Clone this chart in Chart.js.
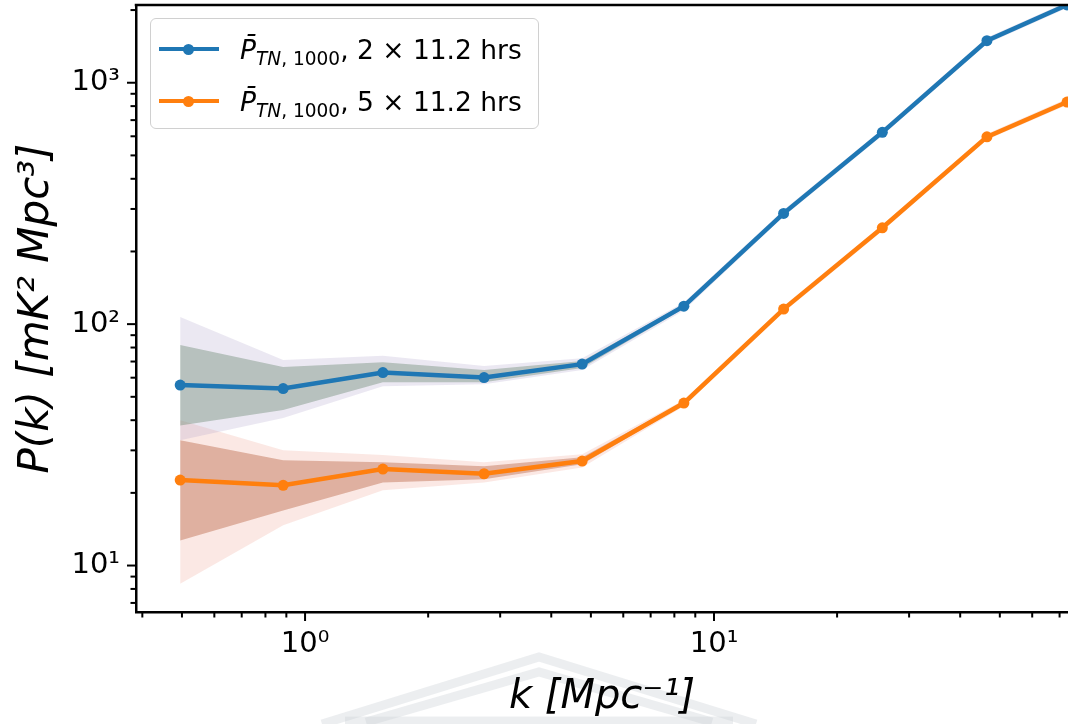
<!DOCTYPE html>
<html>
<head>
<meta charset="utf-8">
<script src="https://cdn.jsdelivr.net/npm/chart.js@4.4.1/dist/chart.umd.min.js"></script>
<style>
  html, body { margin: 0; padding: 0; background: #fff; }
  #wrap { position: relative; width: 1068px; height: 724px; overflow: hidden; }
  #c { position: absolute; left: 0; top: 0; }
  #legend {
    position: absolute; left: 150px; top: 18px; width: 387px; height: 109px;
    border: 1.5px solid #d0d0d0; border-radius: 6px; background: rgba(255,255,255,0.85);
    font-family: "DejaVu Sans", sans-serif; color: #000;
  }
  .sw { position: absolute; left: 8px; width: 60px; height: 4px; }
  .dot { position: absolute; left: 32px; width: 11px; height: 11px; border-radius: 50%; }
  .lbl { position: absolute; left: 89px; font-size: 26.5px; line-height: 1; white-space: nowrap; }
  .lbl i { font-style: italic; }
  .sub { font-size: 0.7em; position: relative; top: 0.3em; }
</style>
</head>
<body>
<div id="wrap">
  <canvas id="c" width="1068" height="724"></canvas>
  <div id="legend">
    <div class="sw" style="top:28px;background:#1f77b4"></div>
    <div class="dot" style="top:24.5px;background:#1f77b4"></div>
    <div class="lbl" style="top:18px"><i>P̄</i><span class="sub"><i>TN</i>, 1000</span>, 2 × 11.2 hrs</div>
    <div class="sw" style="top:80px;background:#ff7f0e"></div>
    <div class="dot" style="top:76.5px;background:#ff7f0e"></div>
    <div class="lbl" style="top:70px"><i>P̄</i><span class="sub"><i>TN</i>, 1000</span>, 5 × 11.2 hrs</div>
  </div>
</div>
<script>
// ---------------- data ----------------
const kValues = [0.495, 0.884, 1.55, 2.74, 4.76, 8.44, 14.8, 25.8, 46.5, 73.0];

const blueMean   = [55.9, 54.1, 63.0, 60.1, 68.3, 118.7, 287.6, 623, 1493, 2100];
const orangeMean = [22.6, 21.5, 25.1, 24.0, 27.1, 47.1, 115.4, 250.6, 597, 832];

// spread of the individual realisations (envelopes)
const blueOuterUpper   = [107, 71, 74, 67, 72.3, 123, 297, 642, 1540, 2160];
const blueOuterLower   = [33, 40.8, 55.3, 56.4, 64.5, 114, 279, 605, 1450, 2040];
const blueInnerUpper   = [82, 66.4, 69.5, 64.5, 70.3, 121, 292, 632, 1515, 2130];
const blueInnerLower   = [38, 44.1, 57.5, 57.5, 65.8, 116, 283, 614, 1470, 2070];
const orangeOuterUpper = [40, 30, 28.7, 26.8, 28.9, 48.5, 119, 258, 615, 858];
const orangeOuterLower = [8.4, 14.7, 20.5, 22.1, 25.5, 45.7, 112, 243, 580, 808];
const orangeInnerUpper = [33, 27.3, 26.8, 25.8, 28.1, 47.8, 117, 254, 606, 845];
const orangeInnerLower = [12.7, 16.9, 22.1, 22.8, 26.3, 46.4, 113.5, 247, 590, 820];

const xTickValues = [1, 10];
const xTickLabels = ['10⁰', '10¹'];
const yTickValues = [10, 100, 1000];
const yTickLabels = ['10¹', '10²', '10³'];

const xTitle = 'k [Mpc⁻¹]';
const yTitle = 'P(k) [mK² Mpc³]';

// ---------------- helpers ----------------
const pts = arr => kValues.map((k, i) => ({ x: k, y: arr[i] }));
const labelFor = (vals, labs) => v => {
  const i = vals.findIndex(t => Math.abs(t - v) / t < 1e-6);
  return i >= 0 ? labs[i] : '';
};
const band = (arr, bg, fill) => ({
  data: pts(arr), borderWidth: 0, borderColor: 'rgba(0,0,0,0)', backgroundColor: bg,
  pointRadius: 0, fill: fill ? '+1' : false, tension: 0, order: 5
});

// ---------------- plugins ----------------
const watermark = {
  id: 'watermark',
  beforeDraw(chart) {
    const ctx = chart.ctx;
    ctx.save();
    ctx.strokeStyle = 'rgba(205,209,215,0.38)';
    ctx.lineWidth = 9;
    ctx.lineJoin = 'miter';
    ctx.beginPath();
    ctx.moveTo(322, 724); ctx.lineTo(539, 657); ctx.lineTo(756, 724);
    ctx.stroke();
    ctx.beginPath();
    ctx.moveTo(366, 722); ctx.lineTo(539, 672); ctx.lineTo(712, 722);
    ctx.stroke();
    ctx.beginPath();
    ctx.moveTo(345, 721); ctx.lineTo(733, 721);
    ctx.stroke();
    ctx.restore();
  }
};

const frameTicks = {
  id: 'frameTicks',
  afterDraw(chart) {
    const ctx = chart.ctx, a = chart.chartArea;
    const xs = chart.scales.x, ys = chart.scales.y;
    ctx.save();
    ctx.strokeStyle = '#000';
    ctx.lineWidth = 2;
    for (let e = -2; e <= 3; e++) {
      for (let m = 1; m <= 9; m++) {
        const v = m * Math.pow(10, e);
        if (v >= xs.min && v <= xs.max) {
          const p = xs.getPixelForValue(v), len = m === 1 ? 9 : 5.5;
          ctx.beginPath(); ctx.moveTo(p, a.bottom); ctx.lineTo(p, a.bottom + len); ctx.stroke();
        }
        if (v >= ys.min && v <= ys.max) {
          const p = ys.getPixelForValue(v), len = m === 1 ? 9 : 5.5;
          ctx.beginPath(); ctx.moveTo(a.left, p); ctx.lineTo(a.left - len, p); ctx.stroke();
        }
      }
    }
    ctx.lineWidth = 2.5;
    ctx.beginPath(); ctx.moveTo(a.left - 1.25, a.top); ctx.lineTo(a.right + 2, a.top); ctx.stroke();
    ctx.restore();
  }
};

// ---------------- chart ----------------
new Chart(document.getElementById('c'), {
  type: 'line',
  data: {
    datasets: [
      band(blueOuterUpper, 'rgba(165,150,195,0.22)', true),
      band(blueOuterLower, 'rgba(0,0,0,0)', false),
      band(blueInnerUpper, 'rgba(95,135,95,0.42)', true),
      band(blueInnerLower, 'rgba(0,0,0,0)', false),
      band(orangeOuterUpper, 'rgba(235,150,130,0.22)', true),
      band(orangeOuterLower, 'rgba(0,0,0,0)', false),
      band(orangeInnerUpper, 'rgba(175,95,60,0.45)', true),
      band(orangeInnerLower, 'rgba(0,0,0,0)', false),
      {
        label: 'P̄ TN,1000, 2 × 11.2 hrs', data: pts(blueMean),
        borderColor: '#1f77b4', backgroundColor: '#1f77b4', borderWidth: 4.5,
        pointRadius: 5.5, pointBorderWidth: 0, pointBackgroundColor: '#1f77b4',
        fill: false, tension: 0, order: 0
      },
      {
        label: 'P̄ TN,1000, 5 × 11.2 hrs', data: pts(orangeMean),
        borderColor: '#ff7f0e', backgroundColor: '#ff7f0e', borderWidth: 4.5,
        pointRadius: 5.5, pointBorderWidth: 0, pointBackgroundColor: '#ff7f0e',
        fill: false, tension: 0, order: 0
      }
    ]
  },
  options: {
    responsive: false,
    animation: false,
    devicePixelRatio: 1,
    layout: { autoPadding: false, padding: { top: 5, left: 0, right: 0, bottom: 0 } },
    plugins: { legend: { display: false }, tooltip: { enabled: false } },
    scales: {
      x: {
        type: 'logarithmic', position: 'bottom', min: 0.386, max: 73.4,
        grid: { display: false, drawTicks: false },
        border: { display: true, color: '#000', width: 2.5 },
        ticks: {
          autoSkip: false, maxRotation: 0, padding: 15, color: '#000',
          font: { family: 'DejaVu Sans', size: 29 },
          callback: labelFor(xTickValues, xTickLabels)
        },
        title: {
          display: true, text: xTitle, color: '#000',
          font: { family: 'DejaVu Sans', style: 'italic', size: 40 },
          padding: { top: 0, bottom: 2 }
        },
        afterFit(s) { s.height = 112; s.paddingLeft = 0; s.paddingRight = 0; }
      },
      y: {
        type: 'logarithmic', position: 'left', min: 6.42, max: 2099,
        grid: { display: false, drawTicks: false },
        border: { display: true, color: '#000', width: 2.5 },
        ticks: {
          autoSkip: false, padding: 16, color: '#000',
          font: { family: 'DejaVu Sans', size: 29 },
          callback: labelFor(yTickValues, yTickLabels)
        },
        title: {
          display: true, text: yTitle, color: '#000',
          font: { family: 'DejaVu Sans', style: 'italic', size: 42 },
          padding: { top: 12, bottom: 0 }
        },
        afterFit(s) { s.width = 136; s.paddingTop = 0; s.paddingBottom = 0; }
      }
    }
  },
  plugins: [watermark, frameTicks]
});
</script>
</body>
</html>
